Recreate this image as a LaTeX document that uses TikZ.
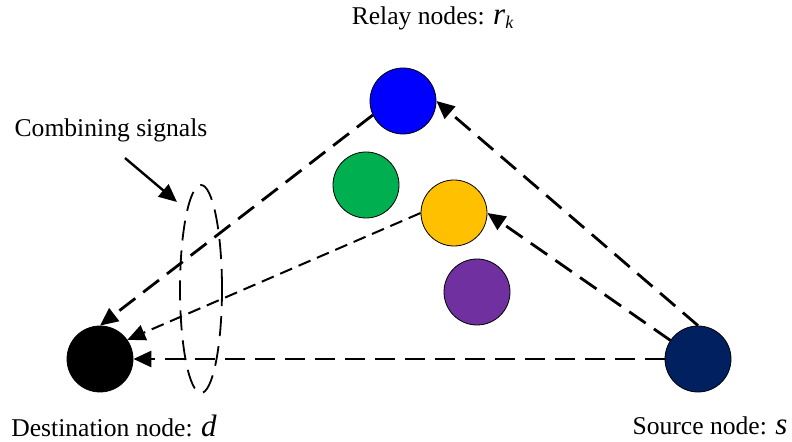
\documentclass[tikz,border=0pt]{standalone}
\usepackage{fontspec}
\setmainfont{Liberation Serif}
\usetikzlibrary{arrows.meta}
\usetikzlibrary{shapes.geometric}
\definecolor{relayblue}{HTML}{0000FF}
\definecolor{relaygreen}{HTML}{00B050}
\definecolor{relayyellow}{HTML}{FFC000}
\definecolor{relaypurple}{HTML}{7030A0}
\definecolor{sourcenavy}{HTML}{002060}

\begin{document}
\begin{tikzpicture}[x=0.5pt, y=-0.5pt,
  station/.style={circle, draw=black, line width=0.4pt, minimum size=33pt, inner sep=0pt},
  caption/.style={font=\fontsize{12.8}{15}\selectfont, inner sep=0pt},
  link/.style={-{Triangle[length=9pt, width=8pt]}, line width=1.4pt, dash pattern=on 10pt off 5pt},
  thinlink/.style={-{Triangle[length=9pt, width=8pt]}, line width=1pt, dash pattern=on 6.5pt off 3.5pt},
  pointer/.style={-{Triangle[length=9pt, width=8pt]}, line width=1.2pt}
]
\useasboundingbox (0,0) rectangle (792,442);
% Nodes
\node[station, fill=relayblue] (r1) at (403,101) {};
\node[station, fill=relaygreen] (r2) at (366,185) {};
\node[station, fill=relayyellow] (r3) at (454,213) {};
\node[station, fill=relaypurple] (r4) at (477,292) {};
\node[station, fill=sourcenavy] (s) at (698,359) {};
\node[station, fill=black] (d) at (100,359) {};
\node[ellipse, draw, line width=0.9pt, dash pattern=on 10pt off 5pt, minimum width=21pt, minimum height=104pt, inner sep=0pt] (comb) at (201,289) {};

\node[caption] (relaytxt) at (433,18) {Relay nodes: {\fontsize{15.5}{18}\selectfont\itshape r}\textsubscript{\itshape k}};
\node[caption] (combtxt) at (111,130) {Combining signals};
\node[caption] (desttxt) at (114,426) {Destination node: {\fontsize{15.5}{18}\selectfont\itshape d}};
\node[caption] (srctxt) at (710,426) {Source node: {\fontsize{15.5}{18}\selectfont\itshape s}};
\coordinate (combtip) at (177,202);

% Edges
\draw[link] (s.north) -- (r1.east);
\draw[link] (r1.205) -- (d.north);
\draw[link] (s.146) -- (r3.east);
\draw[thinlink] (r3.west) -- (d.35);
\draw[link] (s.west) -- (d.east);
\draw[pointer] ([xshift=7pt, yshift=-8pt]combtxt.south) -- (combtip);

\end{tikzpicture}
\end{document}
